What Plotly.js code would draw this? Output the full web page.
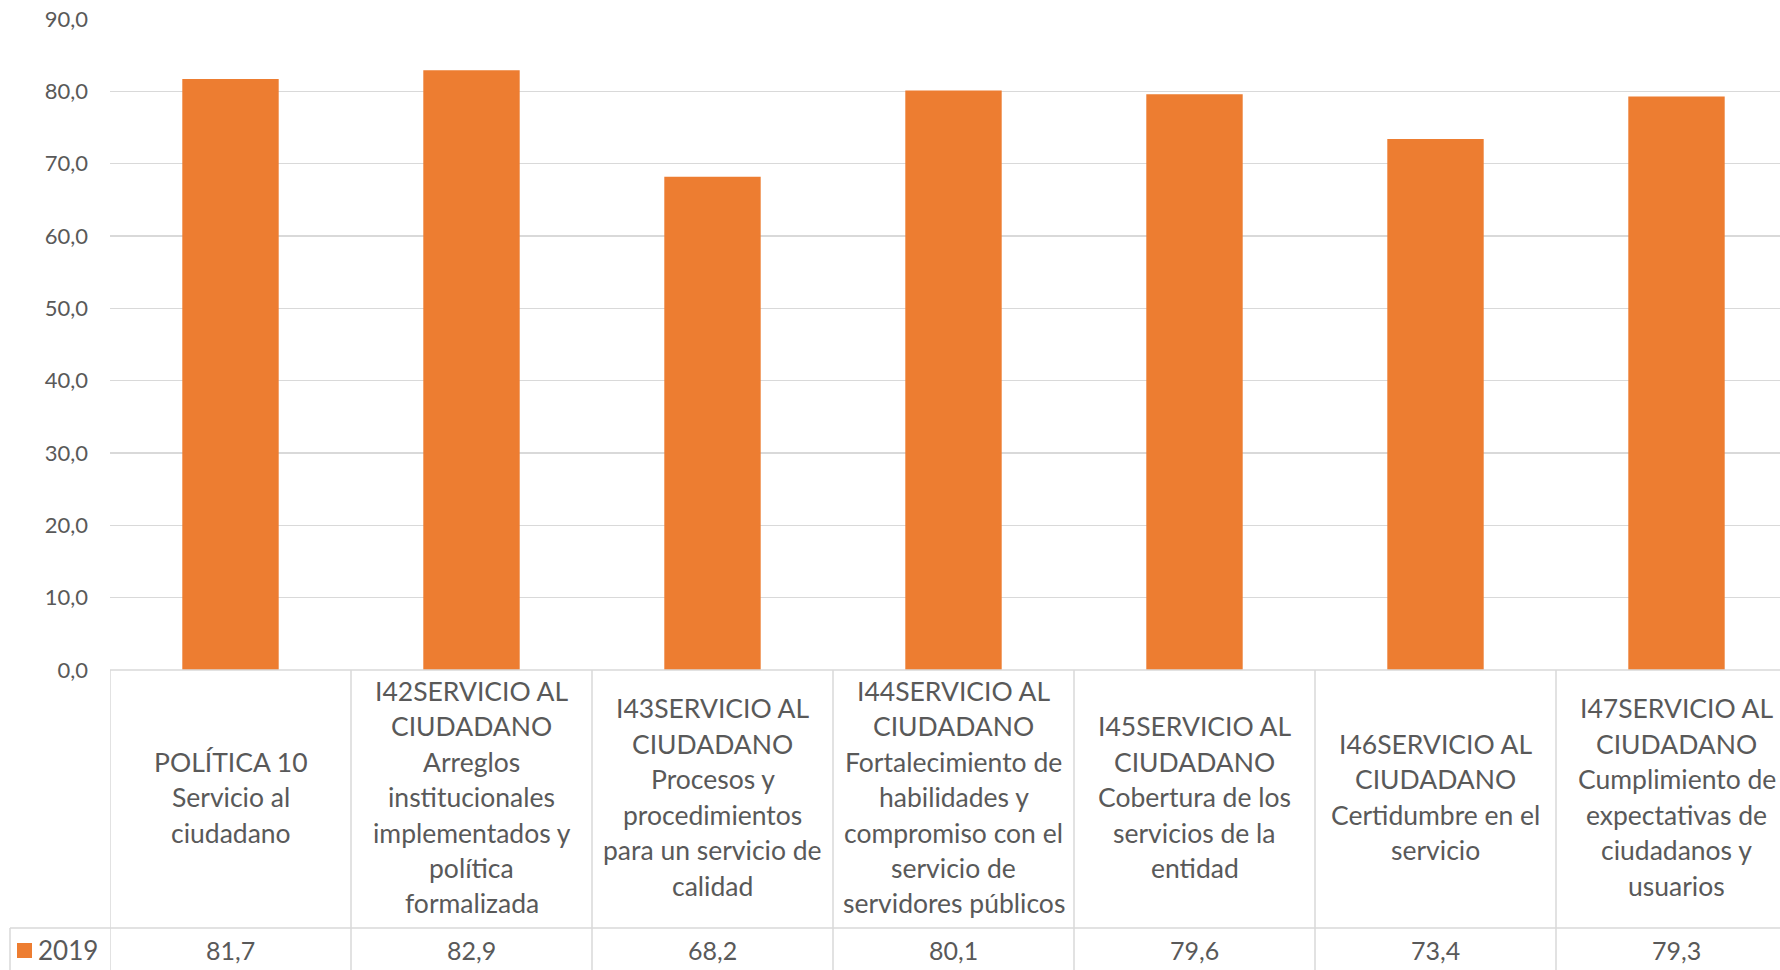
<!DOCTYPE html>
<html>
<head>
<meta charset="utf-8">
<script src="https://cdn.plot.ly/plotly-3.0.1.min.js"></script>
<style>html,body{margin:0;padding:0;background:#fff;}#chart{width:1780px;height:970px;}</style>
</head>
<body>
<div id="chart"></div>
<script>
const categories = [
  "POLÍTICA 10\nServicio al\nciudadano",
  "I42SERVICIO AL\nCIUDADANO\nArreglos\ninstitucionales\nimplementados y\npolítica\nformalizada",
  "I43SERVICIO AL\nCIUDADANO\nProcesos y\nprocedimientos\npara un servicio de\ncalidad",
  "I44SERVICIO AL\nCIUDADANO\nFortalecimiento de\nhabilidades y\ncompromiso con el\nservicio de\nservidores públicos",
  "I45SERVICIO AL\nCIUDADANO\nCobertura de los\nservicios de la\nentidad",
  "I46SERVICIO AL\nCIUDADANO\nCertidumbre en el\nservicio",
  "I47SERVICIO AL\nCIUDADANO\nCumplimiento de\nexpectativas de\nciudadanos y\nusuarios"
];
const seriesName = "2019";
const values2019 = [81.7, 82.9, 68.2, 80.1, 79.6, 73.4, 79.3];
const yTicks = [0, 10, 20, 30, 40, 50, 60, 70, 80, 90];

const W = 1780, H = 970;
const mL = 110, mR = 0, mT = 19, mB = 300;
const plotH = H - mT - mB;
const plotW = W - mL - mR;
const colW = 241;
const xMax = -0.5 + plotW / colW;
const py = Y => (H - mB - Y) / plotH;      // pixel y -> paper y
const px = X => (X - mL) / plotW;          // pixel x -> paper x

const orange = "#ED7D31";
const txt = "#595959";
const grid = "#D9D9D9";
const FONT = "Lato, 'Open Sans', sans-serif";

const xs = categories.map((c, i) => i);

const trace = {
  type: "bar",
  x: xs,
  y: values2019,
  name: seriesName,
  marker: {color: orange},
  hoverinfo: "skip",
  showlegend: false
};

const headerTop = H - mB;   // 670
const headerBot = 928;
const bottom = 985;
const lineH = 35.5;
const headerCenter = (headerTop + headerBot) / 2 - 2;
const valueCenter = 950;

const shapes = [];
const lineStyle = {color: grid, width: 1.5};
shapes.push({type: "line", xref: "paper", yref: "paper", x0: 0, x1: 1.01, y0: py(headerTop), y1: py(headerTop), line: lineStyle});
shapes.push({type: "line", xref: "paper", yref: "paper", x0: px(10), x1: 1.01, y0: py(headerBot), y1: py(headerBot), line: lineStyle});
shapes.push({type: "line", xref: "paper", yref: "paper", x0: px(10), x1: px(10), y0: py(headerBot), y1: py(bottom), line: lineStyle});
for (let i = 0; i <= categories.length; i++) {
  shapes.push({type: "line", xref: "x", yref: "paper", x0: i - 0.5, x1: i - 0.5, y0: py(headerTop), y1: py(bottom), line: lineStyle});
}
shapes.push({type: "rect", xref: "paper", yref: "paper", x0: px(17), x1: px(32), y0: py(943), y1: py(958), fillcolor: orange, line: {width: 0}});

const annotations = [];
categories.forEach((c, i) => {
  const lines = c.split("\n");
  const n = lines.length;
  lines.forEach((ln, k) => {
    const Y = headerCenter + (k - (n - 1) / 2) * lineH;
    annotations.push({
      xref: "x", yref: "paper", x: i, y: py(Y),
      xanchor: "center", yanchor: "middle",
      text: ln, showarrow: false,
      font: {family: FONT, size: 26.5, color: txt}
    });
  });
  annotations.push({
    xref: "x", yref: "paper", x: i, y: py(valueCenter),
    xanchor: "center", yanchor: "middle",
    text: values2019[i].toFixed(1).replace(".", ","), showarrow: false,
    font: {family: FONT, size: 25, color: txt}
  });
});
annotations.push({
  xref: "paper", yref: "paper", x: px(36), y: py(valueCenter),
  xanchor: "left", yanchor: "middle",
  text: seriesName, showarrow: false,
  font: {family: FONT, size: 26, color: txt}
});

const layout = {
  width: W, height: H,
  margin: {l: mL, r: mR, t: mT, b: mB, pad: 0},
  paper_bgcolor: "#fff",
  plot_bgcolor: "#fff",
  separators: ",.",
  bargap: 0.6,
  xaxis: {
    range: [-0.5, xMax],
    showticklabels: false,
    showgrid: false,
    zeroline: false,
    showline: false,
    ticks: "",
    fixedrange: true
  },
  yaxis: {
    range: [0, 90],
    tickvals: yTicks,
    tickformat: ".1f",
    showgrid: true,
    gridcolor: grid,
    gridwidth: 1.5,
    zeroline: false,
    showline: false,
    ticks: "",
    ticklabelstandoff: 21,
    tickfont: {family: FONT, size: 22, color: txt},
    fixedrange: true
  },
  shapes: shapes,
  annotations: annotations,
  showlegend: false
};

Plotly.newPlot("chart", [trace], layout, {displayModeBar: false, staticPlot: true});
</script>
</body>
</html>
